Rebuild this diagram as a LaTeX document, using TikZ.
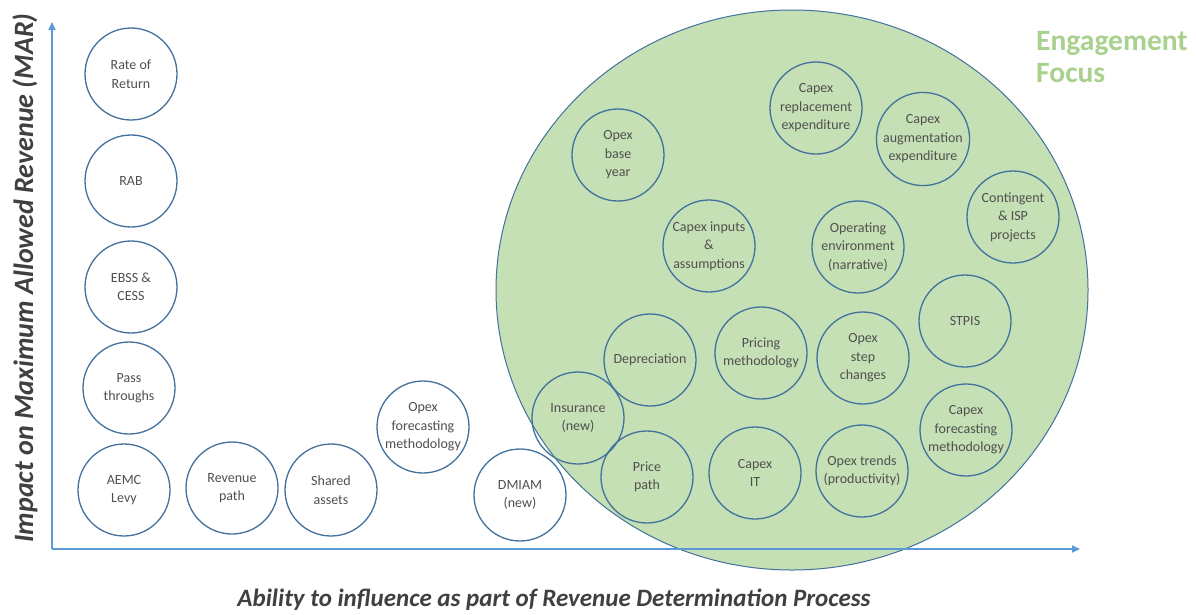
\documentclass[tikz,border=0pt]{standalone}
\usepackage{fontspec}
\setmainfont{Carlito}
\usetikzlibrary{arrows.meta}
\definecolor{axisblue}{HTML}{5B9BD5}
\definecolor{ringblue}{HTML}{41719C}
\definecolor{focusfill}{HTML}{C5E0B4}
\definecolor{focustext}{HTML}{A9D18E}
\definecolor{labelgray}{HTML}{505050}
\definecolor{titlegray}{HTML}{404040}
\begin{document}
\begin{tikzpicture}[x=1pt,y=-1pt,
  item/.style={circle,draw=ringblue,line width=1.3pt,minimum size=92pt,inner sep=0pt,
    align=center,text=labelgray,font=\fontsize{14}{18.5}\selectfont},
  axisline/.style={draw=axisblue,line width=1.6pt,-{Triangle[length=8pt,width=7pt]}},
  axistitle/.style={text=titlegray,font=\bfseries\itshape}]
\useasboundingbox[fill=white] (0,0) rectangle (1196,614);
% engagement focus area
\fill[focusfill,draw=ringblue,line width=1pt] (792,290) ellipse [x radius=296,y radius=280];
\node[anchor=north west,align=left,text=focustext,font=\fontsize{29.5}{32}\selectfont\bfseries,inner sep=0pt]
  (focus) at (1036,31) {Engagement\\Focus};
% axes
\coordinate (origin) at (52,549);
\coordinate (ytip) at (52,22);
\coordinate (xtip) at (1080,549);
\draw[axisline] (origin) -- (ytip);
\draw[axisline] (origin) -- (xtip);
\node[axistitle,rotate=90,font=\fontsize{28}{32}\selectfont\bfseries\itshape] (ytitle) at (25,278) {Impact on Maximum Allowed Revenue (MAR)};
\node[axistitle,font=\fontsize{25}{30}\selectfont\bfseries\itshape] (xtitle) at (554,600) {Ability to influence as part of Revenue Determination Process};
% left column
\node[item] (ror) at (131,74) {Rate of\\Return};
\node[item] (rab) at (131,181) {RAB};
\node[item] (ebss) at (131,287) {EBSS \&\\CESS};
\node[item] (pass) at (129,388) {Pass\\throughs};
\node[item] (aemc) at (124,490) {AEMC\\Levy};
% bottom row
\node[item] (revpath) at (232,488) {Revenue\\path};
\node[item] (shared) at (331,490) {Shared\\assets};
\node[item] (opexfm) at (423,427) {Opex\\forecasting\\methodology};
\node[item] (dmiam) at (520,495) {DMIAM\\(new)};
% inside the focus area
\node[item] (opexby) at (618,155) {Opex\\base\\year};
\node[item] (repex) at (816,108) {Capex\\replacement\\expenditure};
\node[item] (augex) at (923,139) {Capex\\augmentation\\expenditure};
\node[item] (conting) at (1013,217) {Contingent\\\& ISP\\projects};
\node[item] (inputs) at (709,246) {Capex inputs\\\&\\assumptions};
\node[item] (openv) at (858,247) {Operating\\environment\\(narrative)};
\node[item] (stpis) at (965,321) {STPIS};
\node[item] (deprec) at (650,360) {Depreciation};
\node[item] (pricing) at (761,353) {Pricing\\methodology};
\node[item] (step) at (863,358) {Opex\\step\\changes};
\node[item] (insur) at (578,418) {Insurance\\(new)};
\node[item] (price) at (647,477) {Price\\path};
\node[item] (capit) at (755,473) {Capex\\IT};
\node[item] (trends) at (862,471) {Opex trends\\(productivity)};
\node[item] (capfm) at (966,430) {Capex\\forecasting\\methodology};
\end{tikzpicture}
\end{document}
